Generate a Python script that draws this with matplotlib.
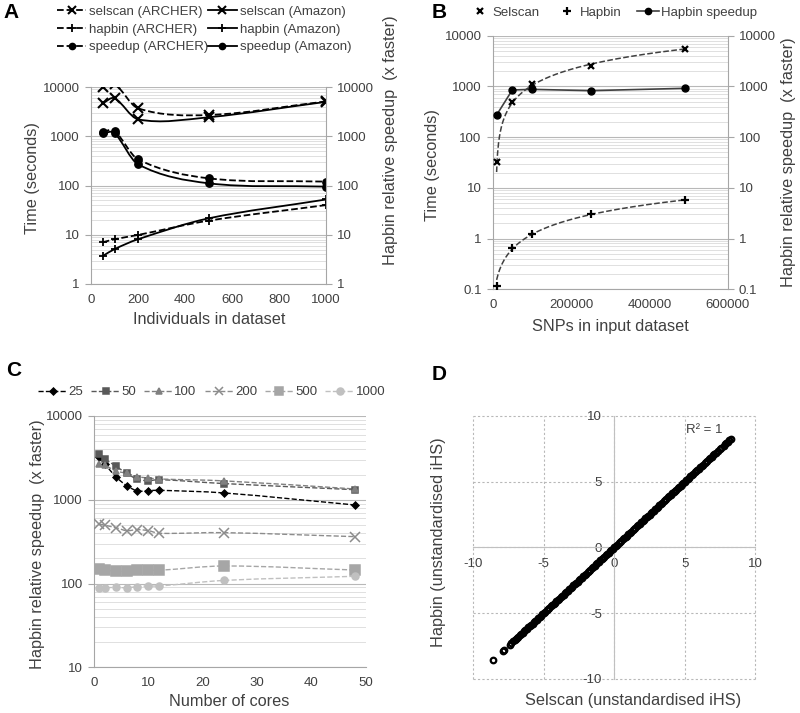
import numpy as np
import matplotlib
matplotlib.use("Agg")
import matplotlib.pyplot as plt
from matplotlib.path import Path
from matplotlib.patches import PathPatch
from matplotlib.lines import Line2D
from matplotlib.ticker import LogLocator, FuncFormatter, NullFormatter

plt.rcParams['font.family'] = ['Liberation Sans', 'DejaVu Sans']

# ---- A: time / speedup vs individuals ----
individuals = [50, 100, 200, 500, 1000]
selscan_archer = [9800, 11500, 3700, 2700, 5100]
selscan_amazon = [4670, 5900, 2210, 2430, 5000]
hapbin_archer = [7.0, 8.1, 9.9, 19.3, 40]
hapbin_amazon = [3.7, 5.1, 8.1, 21.5, 52]
speedup_archer = [1240, 1280, 340, 140, 120]
speedup_amazon = [1150, 1150, 270, 111, 95]

# ---- B: time vs SNPs ----
snps = [10000, 50000, 100000, 250000, 490000]
selscan_time = [32, 500, 1110, 2560, 5540]
hapbin_time = [0.118, 0.645, 1.21, 3.0, 5.77]
hapbin_speedup = [273, 850, 875, 825, 917]

# ---- C: speedup vs number of cores ----
cores = [1, 2, 4, 6, 8, 10, 12, 24, 48]
c_labels = ['25', '50', '100', '200', '500', '1000']
c_25 = [3210, 2680, 1890, 1475, 1275, 1285, 1297, 1205, 867]
c_50 = [3490, 3070, 2530, 2070, 1755, 1690, 1740, 1560, 1320]
c_100 = [2650, 2580, 2210, 2070, 1890, 1820, 1770, 1680, 1345]
c_200 = [514, 496, 465, 428, 440, 428, 398, 405, 363]
c_500 = [148, 144, 141, 140, 144, 145, 144, 162, 145]
c_1000 = [89, 89, 90, 89, 92, 93.5, 93.5, 109, 122]

# ---- D: unstandardised iHS, selscan vs hapbin ----
selscan_ihs = [-8.6, -7.87, -7.83, -7.4, -7.3, -7.15, -7.05,
               -7.0, -6.9, -6.8, -6.7, -6.6, -6.5, -6.4, -6.3, -6.2, -6.1,
               -6.0, -5.9, -5.8, -5.7, -5.6, -5.5, -5.4, -5.3, -5.2, -5.1,
               -5.0, -4.9, -4.8, -4.7, -4.6, -4.5, -4.4, -4.3, -4.2, -4.1,
               -4.0, -3.9, -3.8, -3.7, -3.6, -3.5, -3.4, -3.3, -3.2, -3.1,
               -3.0, -2.9, -2.8, -2.7, -2.6, -2.5, -2.4, -2.3, -2.2, -2.1,
               -2.0, -1.9, -1.8, -1.7, -1.6, -1.5, -1.4, -1.3, -1.2, -1.1,
               -1.0, -0.9, -0.8, -0.7, -0.6, -0.5, -0.4, -0.3, -0.2, -0.1,
               0.0, 0.1, 0.2, 0.3, 0.4, 0.5, 0.6, 0.7, 0.8, 0.9,
               1.0, 1.1, 1.2, 1.3, 1.4, 1.5, 1.6, 1.7, 1.8, 1.9,
               2.0, 2.1, 2.2, 2.3, 2.4, 2.5, 2.6, 2.7, 2.8, 2.9,
               3.0, 3.1, 3.2, 3.3, 3.4, 3.5, 3.6, 3.7, 3.8, 3.9,
               4.0, 4.1, 4.2, 4.3, 4.4, 4.5, 4.6, 4.7, 4.8, 4.9,
               5.0, 5.1, 5.2, 5.3, 5.4, 5.5, 5.6, 5.7, 5.8, 5.9,
               6.0, 6.1, 6.2, 6.3, 6.4, 6.5, 6.6, 6.7, 6.8, 6.9,
               7.0, 7.1, 7.2, 7.35, 7.5, 7.6, 7.75, 7.85, 7.95, 8.05,
               8.15, 8.25]
# R^2 = 1 : hapbin gives the same values as selscan
hapbin_ihs = list(selscan_ihs)

TXT = '#404040'
AX = '#a6a6a6'
W, H = 800, 713


def px_axes(left, top, right, bottom):
    return fig.add_axes([left / W, 1 - bottom / H, (right - left) / W, (bottom - top) / H])


def smooth_path(x, y):
    # excel-like smoothed line, built in (x, log y) space
    pts = np.column_stack([np.asarray(x, float), np.log10(y)])
    n = len(pts)
    verts = [pts[0]]
    codes = [Path.MOVETO]
    for i in range(n - 1):
        p0 = pts[i - 1] if i > 0 else pts[i]
        p1, p2 = pts[i], pts[i + 1]
        p3 = pts[i + 2] if i + 2 < n else pts[i + 1]
        d = p2[0] - p1[0]
        c1 = p1 + (p2 - p0) * d / (p2[0] - p0[0]) / 3
        c2 = p2 - (p3 - p1) * d / (p3[0] - p1[0]) / 3
        verts += [c1, c2, p2]
        codes += [Path.CURVE4] * 3
    v = np.array(verts)
    v[:, 1] = 10 ** v[:, 1]
    return Path(v, codes)


def smooth_line(ax, x, y, **kw):
    ax.add_patch(PathPatch(smooth_path(x, y), fill=False, **kw))


def log_axis(ax, lo, hi):
    ax.set_yscale('log')
    ax.set_ylim(lo, hi)
    ax.yaxis.set_major_locator(LogLocator(base=10, numticks=12))
    ax.yaxis.set_minor_locator(LogLocator(base=10, subs=np.arange(2, 10), numticks=12))
    ax.yaxis.set_major_formatter(FuncFormatter(lambda v, p: f'{v:g}'))
    ax.yaxis.set_minor_formatter(NullFormatter())
    ax.tick_params(axis='y', which='major', length=4, color=AX, labelsize=9.5,
                   labelcolor=TXT, pad=4)
    ax.tick_params(axis='y', which='minor', length=0)


def base_style(ax, grid=True):
    for s in ['top', 'right']:
        ax.spines[s].set_visible(False)
    for s in ['left', 'bottom']:
        ax.spines[s].set_color(AX)
    ax.tick_params(axis='x', length=0, labelsize=9.5, labelcolor=TXT, pad=7)
    if grid:
        ax.grid(True, which='major', axis='y', color='#b8b8b8', lw=0.8)
        ax.grid(True, which='minor', axis='y', color='#dadada', lw=0.6)
    ax.set_axisbelow(True)


def right_twin(ax, lo, hi):
    tw = ax.twinx()
    log_axis(tw, lo, hi)
    for s in ['top', 'left', 'bottom']:
        tw.spines[s].set_visible(False)
    tw.spines['right'].set_color(AX)
    return tw


fig = plt.figure(figsize=(8, 7.13), dpi=100)

# ================= A =================
axA = px_axes(91, 87, 326, 284)
base_style(axA)
log_axis(axA, 1, 10000)
axA.set_xlim(0, 1000)
axA.set_xticks([0, 200, 400, 600, 800, 1000])
right_twin(axA, 1, 10000)

lwA = 1.3
for ys, ls in [(selscan_archer, '--'), (selscan_amazon, '-'),
               (hapbin_archer, '--'), (hapbin_amazon, '-'),
               (speedup_archer, '--'), (speedup_amazon, '-')]:
    smooth_line(axA, individuals, ys, ls=ls, lw=lwA, edgecolor='black', zorder=3)
axA.plot(individuals, selscan_archer, 'x', color='k', ms=6.5, mew=1.5, zorder=4)
axA.plot(individuals, selscan_amazon, 'x', color='k', ms=6.5, mew=1.5, zorder=4)
axA.plot(individuals, hapbin_archer, '+', color='k', ms=6, mew=1.3, zorder=4)
axA.plot(individuals, hapbin_amazon, '+', color='k', ms=6, mew=1.3, zorder=4)
axA.plot(individuals, speedup_archer, 'o', color='k', ms=5.3, zorder=4)
axA.plot(individuals, speedup_amazon, 'o', color='k', ms=5.3, zorder=4)

hA = [Line2D([], [], color='k', ls='--', lw=lwA, marker='x', ms=6, mew=1.5),
      Line2D([], [], color='k', ls='--', lw=lwA, marker='+', ms=6, mew=1.3),
      Line2D([], [], color='k', ls='--', lw=lwA, marker='o', ms=4.5),
      Line2D([], [], color='k', ls='-', lw=lwA, marker='x', ms=6, mew=1.5),
      Line2D([], [], color='k', ls='-', lw=lwA, marker='+', ms=6, mew=1.3),
      Line2D([], [], color='k', ls='-', lw=lwA, marker='o', ms=4.5)]
lA = ['selscan (ARCHER)', 'hapbin (ARCHER)', 'speedup (ARCHER)',
      'selscan (Amazon)', 'hapbin (Amazon)', 'speedup (Amazon)']
fig.legend(hA, lA, loc='center left', bbox_to_anchor=(57 / W, 1 - 29.5 / H), ncol=2,
           frameon=False, fontsize=9.5, handlelength=2.2, handletextpad=0.2,
           columnspacing=0.0, labelspacing=0.4, borderpad=0, borderaxespad=0,
           labelcolor=TXT)
fig.text(3 / W, 1 - 13 / H, 'A', fontsize=15, fontweight='bold', va='center', ha='left')
fig.text(33 / W, 1 - 178 / H, 'Time (seconds)', rotation=90, fontsize=11.7,
         color=TXT, ha='center', va='center')
fig.text(390 / W, 1 - 140 / H, 'Hapbin relative speedup  (x faster)', rotation=90,
         fontsize=11.7, color=TXT, ha='center', va='center')
fig.text(209 / W, 1 - 320 / H, 'Individuals in dataset', fontsize=11.7, color=TXT,
         ha='center', va='center')

# ================= B =================
axB = px_axes(492.7, 35.7, 727.7, 289.3)
base_style(axB)
log_axis(axB, 0.1, 10000)
axB.set_xlim(0, 600000)
axB.set_xticks([0, 200000, 400000, 600000])
axB.xaxis.set_major_formatter(FuncFormatter(lambda v, p: f'{int(v)}'))
right_twin(axB, 0.1, 10000)

# linear trendlines through the selscan and hapbin timings
for ys in [selscan_time, hapbin_time]:
    coef = np.polyfit(snps, ys, 1)
    xs = np.linspace(min(snps), max(snps), 400)
    yv = np.polyval(coef, xs)
    ok = yv > 0
    axB.plot(xs[ok], yv[ok], ls='--', color='#404040', lw=1.1, zorder=3)
axB.plot(snps, hapbin_speedup, '-o', color='#404040', mfc='k', mec='k', ms=5, lw=1.2, zorder=4)
axB.plot(snps, selscan_time, 'x', color='k', ms=4.5, mew=1.6, zorder=4)
axB.plot(snps, hapbin_time, '+', color='k', ms=6, mew=1.6, zorder=4)

hB = [Line2D([], [], ls='none', color='k', marker='x', ms=4.5, mew=1.6),
      Line2D([], [], ls='none', color='k', marker='+', ms=6, mew=1.6),
      Line2D([], [], ls='-', color='#404040', lw=1.2, marker='o', mfc='k', mec='k', ms=4.5)]
fig.legend(hB, ['Selscan', 'Hapbin', 'Hapbin speedup'], loc='center left',
           bbox_to_anchor=(469 / W, 1 - 13 / H), ncol=3, frameon=False, fontsize=9.5,
           handlelength=1.65, handletextpad=0.15, columnspacing=1.2, borderpad=0,
           borderaxespad=0, labelcolor=TXT)
fig.text(432 / W, 1 - 13 / H, 'B', fontsize=15, fontweight='bold', va='center', ha='left')
fig.text(433 / W, 1 - 165 / H, 'Time (seconds)', rotation=90, fontsize=11.7,
         color=TXT, ha='center', va='center')
fig.text(788 / W, 1 - 162 / H, 'Hapbin relative speedup  (x faster)', rotation=90,
         fontsize=11.7, color=TXT, ha='center', va='center')
fig.text(610 / W, 1 - 327 / H, 'SNPs in input dataset', fontsize=11.7, color=TXT,
         ha='center', va='center')

# ================= C =================
axC = px_axes(94, 416, 365.7, 667.3)
base_style(axC)
log_axis(axC, 10, 10000)
axC.set_xlim(0, 50)
axC.set_xticks([0, 10, 20, 30, 40, 50])

c_series = [c_25, c_50, c_100, c_200, c_500, c_1000]
c_colors = ['#000000', '#595959', '#808080', '#8c8c8c', '#a6a6a6', '#c0c0c0']
c_markers = ['D', 's', '^', 'x', 's', 'o']
c_ms = [3.5, 4.8, 5.0, 6.5, 7.5, 5.0]
hC = []
for ys, col, mk, ms in zip(c_series, c_colors, c_markers, c_ms):
    smooth_line(axC, cores, ys, ls='--', lw=1.0, edgecolor=col, zorder=3)
    axC.plot(cores, ys, ls='none', marker=mk, color=col, ms=ms, mew=1.1, zorder=4)
    hC.append(Line2D([], [], ls='--', lw=1.0, color=col, marker=mk, ms=min(ms, 5.5), mew=1.1))
fig.legend(hC, c_labels, loc='center left', bbox_to_anchor=(38 / W, 1 - 392 / H),
           ncol=6, frameon=False, fontsize=9.5, handlelength=2.2, handletextpad=0.1,
           columnspacing=0.6, borderpad=0, borderaxespad=0, labelcolor=TXT)
fig.text(6 / W, 1 - 371 / H, 'C', fontsize=15, fontweight='bold', va='center', ha='left')
fig.text(38 / W, 1 - 544 / H, 'Hapbin relative speedup  (x faster)', rotation=90,
         fontsize=11.7, color=TXT, ha='center', va='center')
fig.text(229 / W, 1 - 702 / H, 'Number of cores', fontsize=11.7, color=TXT,
         ha='center', va='center')

# ================= D =================
axD = px_axes(473.3, 416, 755.3, 678.7)
axD.set_xlim(-10, 10)
axD.set_ylim(-10, 10)
for s in ['top', 'right']:
    axD.spines[s].set_visible(False)
for s in ['left', 'bottom']:
    axD.spines[s].set_position('zero')
    axD.spines[s].set_color('#c0c0c0')
axD.set_xticks([-10, -5, 0, 5, 10])
axD.set_yticks([-10, -5, 0, 5, 10])
axD.xaxis.set_major_formatter(FuncFormatter(lambda v, p: f'{v:g}'))
axD.yaxis.set_major_formatter(FuncFormatter(lambda v, p: f'{v:g}'))
axD.tick_params(axis='x', length=0, labelsize=9.5, labelcolor=TXT, pad=8)
axD.tick_params(axis='y', length=0, labelsize=9.5, labelcolor=TXT, pad=9)
axD.grid(True, ls=(0, (2, 2)), color='#b8b8b8', lw=0.8)
for gl in axD.get_xgridlines() + axD.get_ygridlines():
    gl.set_clip_on(False)
axD.set_axisbelow(True)
axD.plot(selscan_ihs, hapbin_ihs, 'o', mfc='none', mec='black', ms=4.0, mew=1.6,
         zorder=4, clip_on=False)
axD.text(5.05, 8.9, 'R² = 1', fontsize=9.5, color=TXT, ha='left', va='center')
fig.text(432 / W, 1 - 375 / H, 'D', fontsize=15, fontweight='bold', va='center', ha='left')
fig.text(438 / W, 1 - 542 / H, 'Hapbin (unstandardised iHS)', rotation=90,
         fontsize=11.7, color=TXT, ha='center', va='center')
fig.text(633 / W, 1 - 700 / H, 'Selscan (unstandardised iHS)', fontsize=11.7,
         color=TXT, ha='center', va='center')

fig.savefig('out.png', dpi=100)
